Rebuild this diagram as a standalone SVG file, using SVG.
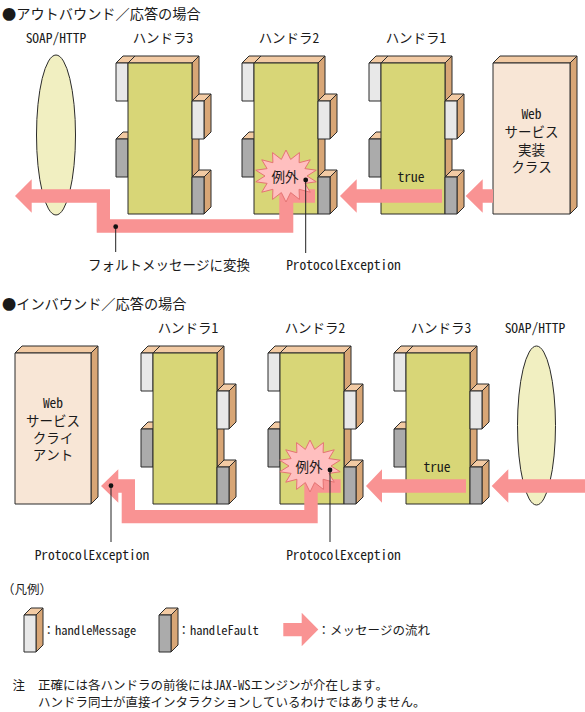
<svg xmlns="http://www.w3.org/2000/svg" xmlns:xlink="http://www.w3.org/1999/xlink" width="585" height="712" viewBox="0 0 585 712">
<style>
.t{font-family:"Noto Sans Mono CJK JP","Noto Sans CJK JP",monospace;fill:#1a1a1a;dominant-baseline:central}
.title{font-size:14.2px}
.lbl{font-size:13.5px;text-anchor:middle}
.sm{font-size:12.5px}
.ln{stroke:#2b2b2b;stroke-width:1;stroke-linejoin:round}
.topf{fill:#f2caa3}
.side{fill:#d8a676}
.body{fill:#d8d677}
.msg{fill:#e8e8e8}
.flt{fill:#ababab}
.web{fill:#f8e6d6}
.oval{fill:#f1efc1}
.pink{fill:#f99393;stroke:none}
.burst{fill:#ffbfbf;stroke:#e57373;stroke-width:1}
.lead{stroke:#222;stroke-width:1;fill:none}
</style>
<defs>
<g id="handler">
<polygon class="topf ln" points="-12,0 -5,-7 7,-7 0,0"/>
<rect class="msg ln" x="-12" y="0" width="12" height="38"/>
<polygon class="topf ln" points="-12,76 -5,69 7,69 0,76"/>
<rect class="flt ln" x="-12" y="76" width="12" height="38"/>
<polygon class="topf ln" points="0,0 7,-7 71,-7 64,0"/>
<polygon class="side ln" points="64,0 71,-7 71,144 64,151"/>
<rect class="body ln" x="0" y="0" width="64" height="151"/>
<polygon class="topf ln" points="64,38 71,31 83,31 76,38"/>
<polygon class="side ln" points="76,38 83,31 83,69 76,76"/>
<rect class="msg ln" x="64" y="38" width="12" height="38"/>
<polygon class="topf ln" points="64,114 71,107 83,107 76,114"/>
<polygon class="side ln" points="76,114 83,107 83,144 76,151"/>
<rect class="flt ln" x="64" y="114" width="12" height="37"/>
</g>
<polygon id="burstShape" class="burst" points="0,-26 4.67,-16.57 13.45,-23.43 13.09,-13.29 24.24,-16.21 18.92,-7.38 30.22,-5.79 21,0 30.22,5.79 18.92,7.38 24.24,16.21 13.09,13.29 13.45,23.43 4.67,16.57 0,26 -4.67,16.57 -13.45,23.43 -13.09,13.29 -24.24,16.21 -18.92,7.38 -30.22,5.79 -21,0 -30.22,-5.79 -18.92,-7.38 -24.24,-16.21 -13.09,-13.29 -13.45,-23.43 -4.67,-16.57"/>
</defs>

<!-- Outbound section -->
<text class="t title" x="2" y="13">●アウトバウンド／応答の場合</text>

<g id="soap-out">
<text class="t lbl" x="56" y="37">SOAP/HTTP</text>
<ellipse class="oval ln" cx="56" cy="135" rx="19.5" ry="80"/>
</g>
<g id="h3-out">
<text class="t lbl" x="163" y="37">ハンドラ3</text>
<use xlink:href="#handler" href="#handler" transform="translate(128,63)"/>
</g>
<g id="h2-out">
<text class="t lbl" x="289" y="37">ハンドラ2</text>
<use xlink:href="#handler" href="#handler" transform="translate(254,63)"/>
</g>
<g id="h1-out">
<text class="t lbl" x="416" y="37">ハンドラ1</text>
<use xlink:href="#handler" href="#handler" transform="translate(381,63)"/>
<text class="t lbl" x="411" y="176">true</text>
</g>
<g id="impl-out">
<polygon class="topf ln" points="493,63 500,56 577,56 570,63"/>
<polygon class="side ln" points="570,63 577,56 577,207 570,214"/>
<rect class="web ln" x="493" y="63" width="77" height="151"/>
<text class="t lbl" x="531.5" y="112.5">Web</text>
<text class="t lbl" x="531.5" y="130.5">サービス</text>
<text class="t lbl" x="531.5" y="148.5">実装</text>
<text class="t lbl" x="531.5" y="166">クラス</text>
</g>

<!-- Inbound section -->
<text class="t title" x="2" y="302.5">●インバウンド／応答の場合</text>

<g id="client-in">
<polygon class="topf ln" points="15,353 22,346 98,346 91,353"/>
<polygon class="side ln" points="91,353 98,346 98,497 91,504"/>
<rect class="web ln" x="15" y="353" width="76" height="151"/>
<text class="t lbl" x="53" y="402">Web</text>
<text class="t lbl" x="53" y="419.5">サービス</text>
<text class="t lbl" x="53" y="436.5">クライ</text>
<text class="t lbl" x="53" y="453.5">アント</text>
</g>
<g id="h1-in">
<text class="t lbl" x="188" y="327">ハンドラ1</text>
<use xlink:href="#handler" href="#handler" transform="translate(153,353)"/>
</g>
<g id="h2-in">
<text class="t lbl" x="315" y="327">ハンドラ2</text>
<use xlink:href="#handler" href="#handler" transform="translate(280,353)"/>
</g>
<g id="h3-in">
<text class="t lbl" x="441" y="327">ハンドラ3</text>
<use xlink:href="#handler" href="#handler" transform="translate(406,353)"/>
<text class="t lbl" x="437" y="466">true</text>
</g>
<g id="soap-in">
<text class="t lbl" x="535" y="327">SOAP/HTTP</text>
<ellipse class="oval ln" cx="536.5" cy="425.5" rx="19" ry="79.5"/>
</g>

<!-- connectors -->
<g id="connectors">
<polygon class="pink" points="465.7,196 482.7,179.3 482.7,189.3 493,189.3 493,202.7 482.7,202.7 482.7,212.7"/>
<polygon class="pink" points="340,196 356.7,179.3 356.7,189.3 442,189.3 442,202.7 356.7,202.7 356.7,212.7"/>
<polygon class="pink" points="15,196 31.7,179.3 31.7,189.3 110,189.3 110,219.3 279.3,219.3 279.3,189.3 315,189.3 315,202.7 293.3,202.7 293.3,232.7 96.7,232.7 96.7,202.7 31.7,202.7 31.7,212.7"/>
<polygon class="pink" points="491.7,486 508.3,469.3 508.3,479.3 585,479.3 585,492.7 508.3,492.7 508.3,502.7"/>
<polygon class="pink" points="366,486 382,469.3 382,479.3 466,479.3 466,492.7 382,492.7 382,502.7"/>
<polygon class="pink" points="101,486 118.3,469.3 118.3,479.3 135,479.3 135,510 304.3,510 304.3,479.3 340.7,479.3 340.7,492.7 317.7,492.7 317.7,523.3 121.7,523.3 121.7,492.7 118.3,492.7 118.3,502.7"/>
</g>

<g id="ex-out">
<use xlink:href="#burstShape" href="#burstShape" transform="translate(286,176)"/>
<text class="t lbl" x="285" y="176">例外</text>
</g>
<g id="ex-in">
<use xlink:href="#burstShape" href="#burstShape" transform="translate(310,466)"/>
<text class="t lbl" x="309" y="466">例外</text>
</g>

<g id="callouts">
<line class="lead" x1="115.7" y1="226.7" x2="115.7" y2="252"/>
<circle cx="115.7" cy="226.7" r="2.4" fill="#111"/>
<text class="t lbl" x="169" y="264">フォルトメッセージに変換</text>
<line class="lead" x1="305.7" y1="180" x2="305.7" y2="253"/>
<circle cx="305.7" cy="180" r="2.4" fill="#111"/>
<text class="t lbl" x="343.5" y="264">ProtocolException</text>
<line class="lead" x1="111" y1="485.7" x2="111" y2="542"/>
<circle cx="111" cy="485.7" r="2.4" fill="#111"/>
<text class="t lbl" x="92" y="553.5">ProtocolException</text>
<line class="lead" x1="330" y1="470" x2="330" y2="542"/>
<circle cx="330" cy="470" r="2.4" fill="#111"/>
<text class="t lbl" x="343.5" y="553.5">ProtocolException</text>
</g>

<!-- legend -->
<g id="legend">
<text class="t sm" x="2" y="588.5">（凡例）</text>
<polygon class="topf ln" points="24,615 31,608 43,608 36,615"/>
<polygon class="side ln" points="36,615 43,608 43,645 36,652"/>
<rect class="msg ln" x="24" y="615" width="12" height="37"/>
<text class="t sm" x="42.5" y="629.5">：handleMessage</text>
<polygon class="topf ln" points="159,615 166,608 178,608 171,615"/>
<polygon class="side ln" points="171,615 178,608 178,645 171,652"/>
<rect class="flt ln" x="159" y="615" width="12" height="37"/>
<text class="t sm" x="177.5" y="629.5">：handleFault</text>
<polygon class="pink" points="283.3,623 301.7,623 301.7,612.7 318.3,629.5 301.7,646.3 301.7,636.3 283.3,636.3"/>
<text class="t sm" x="317.5" y="629.5">：メッセージの流れ</text>
</g>

<g id="note">
<text class="t sm" x="12.5" y="684.5">注</text>
<text class="t sm" x="38" y="684.5">正確には各ハンドラの前後にはJAX-WSエンジンが介在します。</text>
<text class="t sm" x="38" y="701">ハンドラ同士が直接インタラクションしているわけではありません。</text>
</g>
</svg>
